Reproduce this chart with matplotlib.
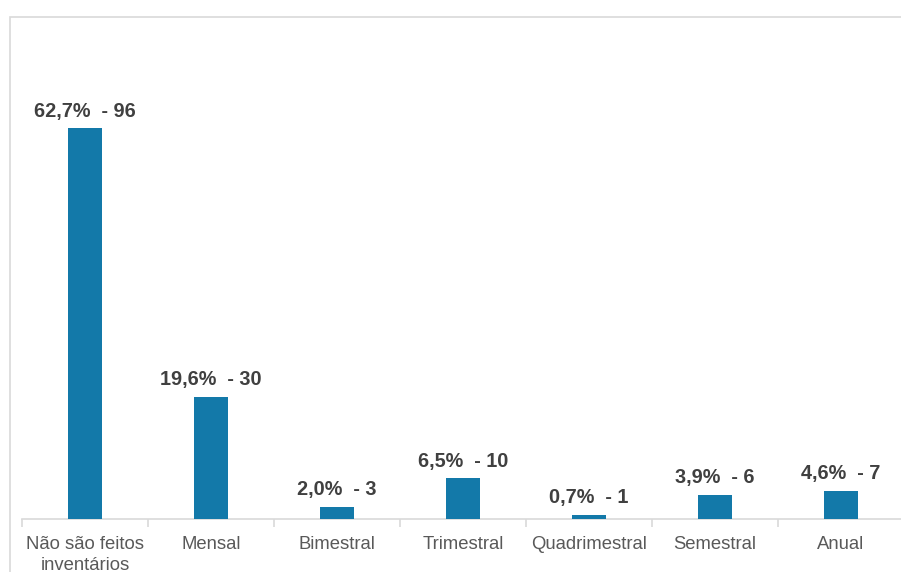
import matplotlib
matplotlib.use("Agg")
import matplotlib.pyplot as plt
from matplotlib.patches import Rectangle

categories = ["Não são feitos\ninventários", "Mensal", "Bimestral", "Trimestral",
              "Quadrimestral", "Semestral", "Anual"]
counts = [96, 30, 3, 10, 1, 6, 7]
percents = ["62,7%", "19,6%", "2,0%", "6,5%", "0,7%", "3,9%", "4,6%"]

plt.rcParams["font.family"] = ["Liberation Sans", "DejaVu Sans"]

W, H = 901, 572
fig = plt.figure(figsize=(W / 100, H / 100), dpi=100)

# outer chart-area frame (runs off the right and bottom edges)
fig.patches.append(Rectangle((10 / W, -0.1), 1.0, 1 - 17 / H + 0.1,
                             transform=fig.transFigure, fill=False,
                             edgecolor="#d9d9d9", linewidth=1.2))

left, right, base, top = 22, 904, 519, 17
ax = fig.add_axes([left / W, 1 - base / H, (right - left) / W, (base - top) / H])

x = list(range(len(categories)))
ax.bar(x, counts, width=0.27, color="#1379a9", zorder=3)
ax.set_xlim(-0.5, len(categories) - 0.5)
ax.set_ylim(0, (base - top) / 4.07)

for xi, c, p in zip(x, counts, percents):
    ax.annotate(f"{p}  - {c}", (xi, c), xytext=(0, 5.5), textcoords="offset points",
                ha="center", va="bottom", fontsize=14.3, fontweight="bold",
                color="#404040")

for s in ["top", "right", "left"]:
    ax.spines[s].set_visible(False)
ax.spines["bottom"].set_color("#d9d9d9")
ax.spines["bottom"].set_linewidth(1.2)
ax.set_yticks([])

ax.set_xticks(x)
ax.set_xticklabels(categories, fontsize=13.3, color="#595959", linespacing=1.3)
ax.tick_params(axis="x", which="major", length=0, pad=12)
ax.set_xticks([i - 0.5 for i in range(len(categories) + 1)], minor=True)
ax.tick_params(axis="x", which="minor", length=6, color="#d9d9d9", width=1.2)

fig.savefig("out.png", dpi=100)
